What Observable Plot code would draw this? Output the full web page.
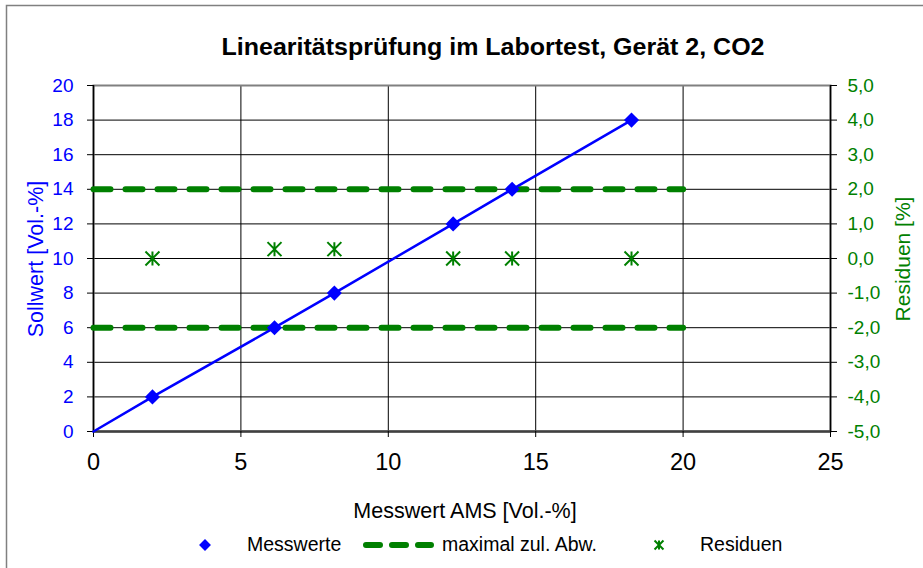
<!DOCTYPE html>
<html>
<head>
<meta charset="utf-8">
<script src="https://cdn.jsdelivr.net/npm/d3@7"></script>
<script src="https://cdn.jsdelivr.net/npm/@observablehq/plot@0.6"></script>
<style>
  body { margin: 0; background: #fff; }
  #wrap { position: relative; width: 923px; height: 568px; overflow: hidden; background: #fff; font-family: "Liberation Sans", Arial, sans-serif; }
  #overlay { position: absolute; left: 0; top: 0; pointer-events: none; }
  #chart { position: absolute; left: 0; top: 0; }
</style>
</head>
<body>
<div id="wrap"><div id="chart"></div></div>
<script>
// ---- data ----
const title = "Linearitätsprüfung im Labortest, Gerät 2, CO2";
const xLabel = "Messwert AMS [Vol.-%]";
const yLabel = "Sollwert [Vol.-%]";
const y2Label = "Residuen [%]";
const legendLabels = ["Messwerte", "maximal zul. Abw.", "Residuen"];

const messwertAMS = [2.0, 6.14, 8.17, 12.2, 14.2, 18.25];
const sollwert    = [2, 6, 8, 12, 14, 18];
const residuen    = [0.0, 0.27, 0.27, 0.0, 0.0, 0.0];
const abwX        = [0, 20];
const abwOben     = [2, 2];
const abwUnten    = [-2, -2];

const xTicks = [0, 5, 10, 15, 20, 25];
const yTicks = [0, 2, 4, 6, 8, 10, 12, 14, 16, 18, 20];
const residTicks = [-5, -4, -3, -2, -1, 0, 1, 2, 3, 4, 5];

// ---- build tables ----
const BLUE = "#0000ff", GREEN = "#008000";
const toY = r => (r + 5) * 2; // residual axis (-5..5) onto Sollwert axis (0..20)
const pts = messwertAMS.map((x, i) => ({x, y: sollwert[i], r: residuen[i]}));
const linePts = [{x: 0, y: 0}, ...pts];
const upper = abwX.map((x, i) => ({x, y: toY(abwOben[i])}));
const lower = abwX.map((x, i) => ({x, y: toY(abwUnten[i])}));
const fmt = v => v.toFixed(1).replace(".", ",").replace("-0,0", "0,0");

const star = {
  draw(ctx, size) {
    const r = Math.sqrt(size / Math.PI);
    ctx.moveTo(0, -r); ctx.lineTo(0, r);
    ctx.moveTo(-r, -r); ctx.lineTo(r, r);
    ctx.moveTo(-r, r); ctx.lineTo(r, -r);
  }
};

const W = 923, H = 568;
const chart = Plot.plot({
  width: W, height: H,
  marginLeft: 93, marginRight: 93, marginTop: 85, marginBottom: 137,
  style: {fontFamily: '"Liberation Sans", Arial, sans-serif', background: "transparent", overflow: "visible"},
  x: {domain: [0, 25]},
  y: {domain: [0, 20]},
  marks: [
    Plot.ruleY(yTicks.slice(1, -1), {stroke: "#000", strokeWidth: 1}),
    Plot.ruleX(xTicks.slice(1, -1), {stroke: "#000", strokeWidth: 1}),
    Plot.frame({stroke: "#808080", strokeWidth: 2}),
    Plot.ruleX([0, 25], {stroke: "#000", strokeWidth: 1.5}),
    Plot.ruleY([0], {stroke: "#404040", strokeWidth: 2.5}),
    Plot.axisY(yTicks, {anchor: "left", tickSize: 6, tickPadding: 14, fontSize: 19, fill: BLUE, stroke: "#000", label: null}),
    Plot.axisY(residTicks.map(toY), {anchor: "right", tickSize: 6, tickPadding: 11, fontSize: 19, fill: GREEN, stroke: "#000", tickFormat: v => fmt(v / 2 - 5), label: null}),
    Plot.axisX(xTicks, {anchor: "bottom", tickSize: 6, tickPadding: 16, fontSize: 23.5, fill: "#000", stroke: "#000", label: null}),
    Plot.line(upper, {x: "x", y: "y", stroke: GREEN, strokeWidth: 6, strokeLinecap: "round", strokeDasharray: "17,15"}),
    Plot.line(lower, {x: "x", y: "y", stroke: GREEN, strokeWidth: 6, strokeLinecap: "round", strokeDasharray: "17,15"}),
    Plot.line(linePts, {x: "x", y: "y", stroke: BLUE, strokeWidth: 2.5}),
    Plot.dot(pts, {x: "x", y: "y", symbol: "diamond2", r: 6.8, fill: BLUE, stroke: "none"}),
    Plot.dot(pts, {x: "x", y: d => toY(d.r), symbol: star, r: 7, stroke: GREEN, strokeWidth: 2, fill: "none"})
  ]
});
document.getElementById("chart").appendChild(chart);

// ---- decorations: title, axis titles, legend, outer border ----
const ov = d3.select("#wrap").append("svg").attr("id", "overlay").attr("width", W).attr("height", H)
  .style("font-family", '"Liberation Sans", Arial, sans-serif');
ov.append("rect").attr("x", 6.5).attr("y", 5.5).attr("width", 2000).attr("height", 2000)
  .attr("fill", "none").attr("stroke", "#808080").attr("stroke-width", 1.5);
ov.append("text").attr("x", 493).attr("y", 55).attr("text-anchor", "middle")
  .attr("font-size", 23).attr("font-weight", "bold").attr("textLength", 543).attr("lengthAdjust", "spacingAndGlyphs")
  .text(title);
ov.append("text").attr("x", 465).attr("y", 518).attr("text-anchor", "middle").attr("font-size", 21.5).text(xLabel);
ov.append("text").attr("transform", "translate(42.5,259) rotate(-90)").attr("text-anchor", "middle")
  .attr("font-size", 21.5).attr("fill", BLUE).text(yLabel);
ov.append("text").attr("transform", "translate(910,259) rotate(-90)").attr("text-anchor", "middle")
  .attr("font-size", 21).attr("fill", GREEN).text(y2Label);

const lg = ov.append("g").attr("font-size", 19.5);
// Messwerte
lg.append("path").attr("d", d3.symbol(d3.symbolDiamond2, 90)()).attr("transform", "translate(205,545)").attr("fill", BLUE);
lg.append("text").attr("x", 247).attr("y", 551).text(legendLabels[0]);
// maximal zul. Abw.
lg.append("line").attr("x1", 366).attr("x2", 431).attr("y1", 545).attr("y2", 545)
  .attr("stroke", GREEN).attr("stroke-width", 6).attr("stroke-linecap", "round").attr("stroke-dasharray", "14,12");
lg.append("text").attr("x", 442).attr("y", 551).text(legendLabels[1]);
// Residuen
lg.append("path").attr("d", d3.symbol(star, Math.PI * 20)()).attr("transform", "translate(659,545)")
  .attr("fill", "none").attr("stroke", GREEN).attr("stroke-width", 2);
lg.append("text").attr("x", 700).attr("y", 551).text(legendLabels[2]);
</script>
</body>
</html>
